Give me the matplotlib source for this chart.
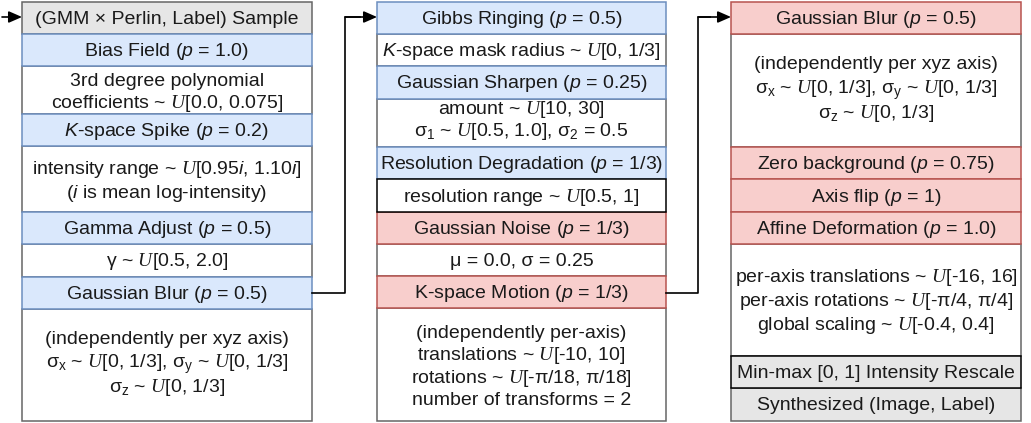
import matplotlib.pyplot as plt
from matplotlib.patches import Rectangle

plt.rcParams['font.family'] = ['Liberation Sans', 'DejaVu Sans']
plt.rcParams['mathtext.fontset'] = 'custom'
plt.rcParams['mathtext.rm'] = 'Liberation Sans'
plt.rcParams['mathtext.it'] = 'Liberation Sans:italic'
plt.rcParams['mathtext.sf'] = 'Liberation Serif:italic'

U = r'$\mathsf{U}$'
sx = r'$\mathrm{σ}_\mathrm{x}$'
sy = r'$\mathrm{σ}_\mathrm{y}$'
sz = r'$\mathrm{σ}_\mathrm{z}$'
blur_txt = ("(independently per xyz axis)\n"
            + sx + " ~ " + U + "[0, 1/3], " + sy + " ~ " + U + "[0, 1/3]\n"
            + sz + " ~ " + U + "[0, 1/3]")

# column 1
col1_labels = [
    "(GMM × Perlin, Label) Sample",
    "Bias Field ($p$ = 1.0)",
    "3rd degree polynomial\ncoefficients ~ " + U + "[0.0, 0.075]",
    "$K$-space Spike ($p$ = 0.2)",
    "intensity range ~ " + U + "[0.95$i$, 1.10$i$]\n($i$ is mean log-intensity)",
    "Gamma Adjust ($p$ = 0.5)",
    "γ ~ " + U + "[0.5, 2.0]",
    "Gaussian Blur ($p$ = 0.5)",
    blur_txt,
]
col1_kinds = ['gray', 'blue', 'white', 'blue', 'white', 'blue', 'white', 'blue', 'white']

# column 2
col2_labels = [
    "Gibbs Ringing ($p$ = 0.5)",
    "$K$-space mask radius ~ " + U + "[0, 1/3]",
    "Gaussian Sharpen ($p$ = 0.25)",
    "amount ~ " + U + "[10, 30]\n" + r"$\mathrm{σ}_\mathrm{1}$ ~ " + U
    + r"[0.5, 1.0], $\mathrm{σ}_\mathrm{2}$ = 0.5",
    "Resolution Degradation ($p$ = 1/3)",
    "resolution range ~ " + U + "[0.5, 1]",
    "Gaussian Noise ($p$ = 1/3)",
    "μ = 0.0, σ = 0.25",
    "K-space Motion ($p$ = 1/3)",
    "(independently per-axis)\ntranslations ~ " + U + "[-10, 10]\nrotations ~ "
    + U + "[-π/18, π/18]\nnumber of transforms = 2",
]
col2_kinds = ['blue', 'white', 'blue', 'white', 'blue', 'whiteb', 'red', 'white', 'red', 'white']

# column 3
col3_labels = [
    "Gaussian Blur ($p$ = 0.5)",
    blur_txt,
    "Zero background ($p$ = 0.75)",
    "Axis flip ($p$ = 1)",
    "Affine Deformation ($p$ = 1.0)",
    "per-axis translations ~ " + U + "[-16, 16]\nper-axis rotations ~ " + U
    + "[-π/4, π/4]\nglobal scaling ~ " + U + "[-0.4, 0.4]",
    "Min-max [0, 1] Intensity Rescale",
    "Synthesized (Image, Label)",
]
col3_kinds = ['red', 'white', 'red', 'red', 'red', 'white', 'grayb', 'gray']

# layout (pixels)
col1_edges = [2, 34, 66, 114, 146, 212, 244, 277, 309, 421]
col2_edges = [2, 34, 66, 99, 147, 179, 212, 244, 276, 308, 421]
col3_edges = [2, 34, 147, 179, 212, 244, 356, 388, 421]
col1_gap = [0, 0, 22, 0, 23, 0, 0, 0, 24.5]
col1_shift = [6, 6, 7, 6, 7, 6, 6, 6, 3]
col2_gap = [0, 0, 0, 21, 0, 0, 0, 0, 0, 22.6]
col2_shift = [6, 6, 6, 2, 6, 6, 6, 6, 6, 7]
col3_gap = [0, 24.5, 0, 0, 0, 23.5, 0, 0]
col3_shift = [6, 3, 6, 6, 6, 6, 6, 6]

styles = {
    'gray': ('#e6e6e6', '#666666', 2),
    'grayb': ('#e6e6e6', '#000000', 3),
    'blue': ('#dae8fc', '#6c8ebf', 2),
    'red': ('#f8cecc', '#b85450', 2),
    'white': ('#ffffff', '#666666', 1),
    'whiteb': ('#ffffff', '#000000', 3),
}
FS = 14

fig = plt.figure(figsize=(10.31, 4.23), dpi=100)
ax = fig.add_axes([0, 0, 1, 1])
ax.set_xlim(0, 1031)
ax.set_ylim(423, 0)
ax.axis('off')


def draw_column(x0, x1, edges, labels, kinds, gaps, shifts):
    for i, (lab, kind) in enumerate(zip(labels, kinds)):
        top, bot = edges[i], edges[i + 1]
        fc, ec, z = styles[kind]
        ax.add_patch(Rectangle((x0, top), x1 - x0, bot - top, fc=fc, ec=ec,
                               lw=1.1, zorder=z))
        lines = lab.split('\n')
        n = len(lines)
        cy = (top + bot) / 2 + shifts[i]
        for k, line in enumerate(lines):
            ax.text((x0 + x1) / 2, cy + (k - (n - 1) / 2) * gaps[i], line,
                    ha='center', va='baseline', fontsize=FS, color='#1a1a1a',
                    zorder=5)


draw_column(22, 312, col1_edges, col1_labels, col1_kinds, col1_gap, col1_shift)
draw_column(377, 666, col2_edges, col2_labels, col2_kinds, col2_gap, col2_shift)
draw_column(731, 1021, col3_edges, col3_labels, col3_kinds, col3_gap, col3_shift)

arrow = dict(arrowstyle='-|>,head_length=0.8,head_width=0.35', color='black',
             lw=1.2, shrinkA=0, shrinkB=0)

# entry / exit arrows
ax.annotate('', xy=(22, 17), xytext=(2, 17), arrowprops=arrow)
ax.annotate('', xy=(1036, 405), xytext=(1021, 405), arrowprops=arrow)

# connectors between columns
ax.plot([312, 345, 345, 360], [293, 293, 17, 17], color='black', lw=1.2)
ax.annotate('', xy=(377, 17), xytext=(345, 17), arrowprops=arrow)
ax.plot([666, 698, 698, 710], [293, 293, 17, 17], color='black', lw=1.2)
ax.annotate('', xy=(731, 17), xytext=(698, 17), arrowprops=arrow)

plt.savefig('out.png', dpi=100)
